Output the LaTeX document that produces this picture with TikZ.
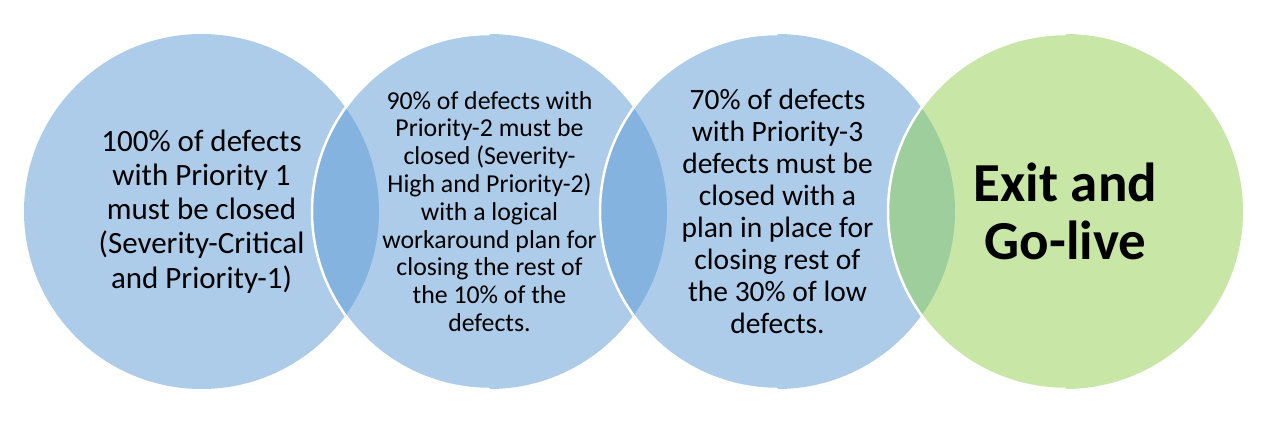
\documentclass[tikz,border=0pt]{standalone}
\usepackage{fontspec}
\setmainfont{Carlito}
\usepackage{tikz}
\usetikzlibrary{positioning}
\definecolor{vblue}{HTML}{5B9BD5}
\definecolor{vgreen}{HTML}{92D050}
\tikzset{
  venn/.style={circle,draw=none,fill=vblue,fill opacity=0.5,text opacity=1,
    minimum size=355pt,inner sep=0pt,outer sep=0pt,align=center,text=black},
  venng/.style={venn,fill=vgreen},
  rim/.style={draw=white,line width=2.5pt},
}
\begin{document}
\begin{tikzpicture}[x=1pt,y=-1pt]
  \useasboundingbox (0,0) rectangle (1266,427);
  \fill[white] (0,0) rectangle (1266,427);
  \node[venn,font=\fontsize{31}{34.2}\selectfont] (c1) at (201.5,211.5)
    {100\% of defects\\ with Priority 1\\ must be closed\\ (Severity-Critical\\ and Priority-1)};
  \node[venn,font=\fontsize{25.8}{27.8}\selectfont] (c2) at (489.5,211.5)
    {90\% of defects with\\ Priority-2 must be\\ closed (Severity-\\ High and Priority-2)\\
     with a logical\\ workaround plan for\\ closing the rest of\\ the 10\% of the\\ defects.};
  \node[venn,font=\fontsize{29.5}{32}\selectfont] (c3) at (777.5,211.5)
    {70\% of defects\\ with Priority-3\\ defects must be\\ closed with a\\ plan in place for\\
     closing rest of\\ the 30\% of low\\ defects.};
  \node[venng,font=\fontsize{55}{58}\selectfont\bfseries] (c4) at (1065.5,211.5)
    {Exit and\\ Go-live};
  % white rims on the left arcs, over the overlaps
  \foreach \c in {c2,c3,c4}
    \draw[rim] (\c.north) arc[start angle=90,end angle=270,radius=177.5pt];
\end{tikzpicture}
\end{document}
